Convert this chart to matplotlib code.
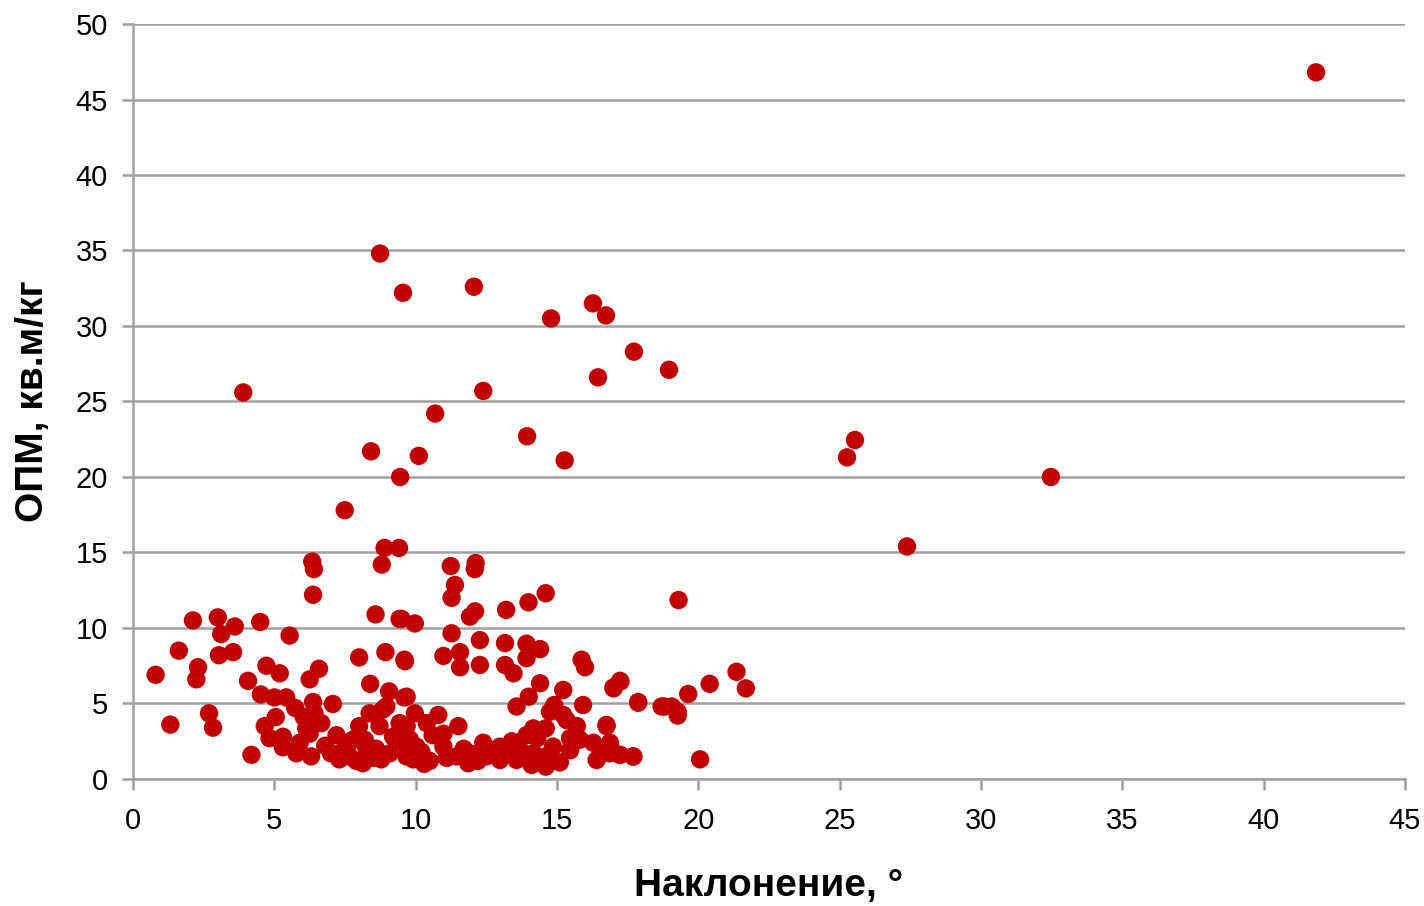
import matplotlib
matplotlib.use('Agg')
import matplotlib.pyplot as plt

plt.rcParams['font.family'] = ['Liberation Sans', 'DejaVu Sans']

# наклонение, градусы
incl = [
    41.85, 32.47, 27.38, 25.26, 25.54,
    8.74, 9.55, 12.06, 16.27, 14.79, 16.73, 17.72, 18.96, 16.45,
    3.9, 12.39, 10.69, 13.94, 8.42, 10.11, 15.27, 9.45, 7.49,
    8.9, 9.41, 6.34, 6.4, 8.8, 11.24, 12.12, 12.09,
    # 0-10 зона
    6.37, 2.12, 3.0, 3.6, 3.12, 4.5, 5.54, 1.62, 3.04, 3.54,
    2.3, 2.24, 0.8, 4.07, 4.72, 5.19, 6.25, 6.58, 8.0, 8.58,
    9.43, 8.93, 9.6, 8.39, 9.06, 9.6, 4.52, 5.0, 5.42, 5.74,
    6.37, 7.07, 6.42, 6.04, 6.66, 6.13, 5.05, 4.66, 2.69, 2.83,
    1.32, 4.19, 4.83, 5.3, 5.3, 5.78, 5.9, 6.25, 6.3, 7.0,
    7.2, 7.78, 7.66, 8.13, 8.25, 8.0, 8.37, 8.84, 8.72, 9.2,
    8.78, 9.43, 9.55, 9.67, 9.08, 8.96,
    # 10-20 зона
    11.39, 11.27, 14.6, 13.99, 13.2, 12.1, 11.92, 9.5, 9.97, 19.3,
    11.27, 12.27, 13.16, 13.92, 14.4, 10.98, 11.57, 11.57, 12.27, 13.16,
    13.46, 13.92, 15.87, 15.99, 9.62, 14.4, 15.22, 17.0, 17.24, 17.87,
    18.8, 19.27, 9.68, 14.0, 13.57, 14.9, 15.92, 14.75, 15.22, 16.75,
    11.51, 9.97, 10.8, 10.39, 14.16, 14.6, 13.92, 15.34, 15.7, 15.46,
    15.81, 16.28, 16.87, 9.68, 9.44, 10.98, 10.98, 10.03, 9.91, 10.5,
    11.45, 11.92, 12.39, 11.86, 12.51, 12.98, 13.2, 12.98, 13.7, 13.57,
    14.16, 14.1, 14.6, 14.86, 14.6, 15.46, 16.4, 16.87, 17.22, 17.69,
    # 17-22 зона
    21.35, 21.68, 20.4, 19.64, 17.23, 17.0, 17.87, 18.7, 19.06, 19.27,
    16.75, 16.87, 17.23, 17.7, 20.06, 16.58,
    # доп. точки в скоплении
    7.4, 7.6, 7.9, 8.2, 8.5, 10.2, 10.6, 11.1, 12.7, 13.4,
    6.8, 7.3, 8.6, 9.8, 10.3, 11.7, 12.2, 13.0, 14.3, 15.1,
]

# ОПМ, кв.м/кг
opm = [
    46.8, 20.0, 15.4, 21.3, 22.45,
    34.8, 32.2, 32.6, 31.5, 30.5, 30.7, 28.3, 27.1, 26.6,
    25.6, 25.7, 24.2, 22.7, 21.7, 21.4, 21.1, 20.0, 17.8,
    15.3, 15.3, 14.4, 13.9, 14.2, 14.1, 14.3, 13.9,
    12.2, 10.5, 10.7, 10.1, 9.6, 10.4, 9.5, 8.5, 8.2, 8.4,
    7.4, 6.6, 6.9, 6.5, 7.5, 7.0, 6.6, 7.3, 8.05, 10.9,
    10.6, 8.4, 7.9, 6.3, 5.8, 5.4, 5.6, 5.4, 5.4, 4.7,
    5.1, 4.97, 4.35, 4.1, 3.7, 3.35, 4.1, 3.5, 4.35, 3.4,
    3.6, 1.6, 2.7, 2.8, 2.1, 1.7, 2.4, 3.0, 1.5, 1.7,
    2.9, 2.6, 1.5, 1.04, 2.1, 3.5, 4.35, 4.6, 3.5, 2.8,
    1.3, 3.7, 2.4, 1.5, 1.7, 4.8,
    12.85, 12.0, 12.3, 11.7, 11.2, 11.1, 10.75, 10.6, 10.3, 11.85,
    9.65, 9.2, 9.0, 8.96, 8.6, 8.15, 8.4, 7.4, 7.55, 7.55,
    7.0, 8.0, 7.9, 7.4, 7.8, 6.34, 5.9, 6.07, 6.45, 5.1,
    4.8, 4.45, 5.45, 5.45, 4.8, 4.9, 4.9, 4.45, 4.24, 3.58,
    3.5, 4.35, 4.24, 3.7, 3.35, 3.35, 2.9, 3.9, 3.5, 2.7,
    2.6, 2.4, 2.4, 3.5, 2.8, 3.0, 2.14, 2.14, 1.3, 1.2,
    1.5, 1.7, 2.4, 1.04, 1.5, 2.14, 1.9, 1.26, 1.9, 1.26,
    1.7, 0.93, 1.5, 2.14, 0.82, 1.9, 1.26, 1.7, 1.6, 1.5,
    7.1, 6.0, 6.3, 5.63, 6.5, 6.0, 5.05, 4.8, 4.8, 4.2,
    3.5, 2.25, 1.6, 1.48, 1.3, 1.7,
    1.8, 2.3, 1.2, 2.6, 1.4, 1.8, 2.9, 1.4, 1.9, 2.5,
    2.2, 1.3, 2.0, 2.6, 1.0, 2.0, 1.2, 1.5, 2.7, 1.1,
]

xticks = list(range(0, 50, 5))
yticks = list(range(0, 55, 5))

fig = plt.figure(figsize=(14.24, 9.06), dpi=100)
ax = fig.add_axes([0.0934, 0.1402, 0.8933, 0.8333])

grid_c = '#A0A0A0'
ax.scatter(incl, opm, s=175, color='#C00000', edgecolors='none', zorder=3)

ax.set_xlim(0, 45)
ax.set_ylim(0, 50)
ax.set_xticks(xticks)
ax.set_yticks(yticks)
ax.yaxis.grid(True, color=grid_c, linewidth=1.8)
ax.set_axisbelow(True)

for side in ['top', 'right']:
    ax.spines[side].set_visible(False)
for side in ['left', 'bottom']:
    ax.spines[side].set_color(grid_c)
    ax.spines[side].set_linewidth(1.8)

ax.tick_params(axis='both', colors=grid_c, width=1.8, length=8, labelsize=21,
               labelcolor='black', direction='out')
ax.tick_params(axis='x', pad=12)
ax.tick_params(axis='y', pad=10)

ax.set_xlabel('Наклонение, °', fontsize=28, fontweight='bold', labelpad=24)
ax.set_ylabel('ОПМ, кв.м/кг', fontsize=28, fontweight='bold', labelpad=18)

fig.savefig('out.png', dpi=100)
plt.close(fig)
